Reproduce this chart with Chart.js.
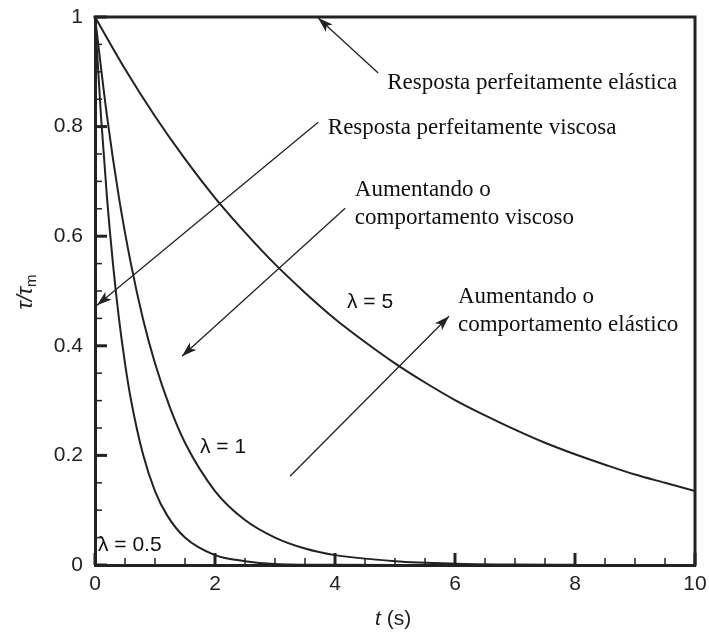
<!DOCTYPE html>
<html>
<head>
<meta charset="utf-8">
<script src="https://cdn.jsdelivr.net/npm/chart.js@4/dist/chart.umd.min.js"></script>
<style>
  body { margin: 0; background: #fff; }
  #wrap { width: 709px; height: 637px; }
</style>
</head>
<body>
<div id="wrap"><canvas id="grafico" width="709" height="637"></canvas></div>
<script>
// valores (t em s, tau/tau_m)
const tLambda05 = [0, 0.1, 0.2, 0.3, 0.4, 0.5, 0.6, 0.8, 1.0, 1.2, 1.5, 2.0, 2.5, 3.0, 4.0, 5.0, 6.0, 7.5];
const yLambda05 = [1, 0.819, 0.670, 0.549, 0.449, 0.368, 0.301, 0.202, 0.135, 0.091, 0.050, 0.018, 0.007, 0.002, 0.0003, 0, 0, 0];

const tLambda1 = [0, 0.2, 0.4, 0.6, 0.8, 1.0, 1.25, 1.5, 2.0, 2.5, 3.0, 3.5, 4.0, 5.0, 6.0, 7.0, 8.0];
const yLambda1 = [1, 0.819, 0.670, 0.549, 0.449, 0.368, 0.287, 0.223, 0.135, 0.082, 0.050, 0.030, 0.018, 0.007, 0.0025, 0.0009, 0.0003];

const tLambda5 = [0, 0.5, 1, 1.5, 2, 2.5, 3, 3.5, 4, 4.5, 5, 5.5, 6, 6.5, 7, 7.5, 8, 8.5, 9, 9.5, 10];
const yLambda5 = [1, 0.905, 0.819, 0.741, 0.670, 0.607, 0.549, 0.497, 0.449, 0.407, 0.368, 0.333, 0.301, 0.273, 0.247, 0.223, 0.202, 0.183, 0.165, 0.150, 0.135];

const xTicks = [0, 2, 4, 6, 8, 10];
const yTicks = [0, 0.2, 0.4, 0.6, 0.8, 1];

const cor = '#222';
const serif = '"Liberation Serif", "Times New Roman", serif';
const sans = '"Liberation Sans", Arial, sans-serif';

function pontos(ts, ys) {
    return ts.map((t, i) => ({ x: t, y: ys[i] }));
}

// textos e setas em coordenadas dos dados
const textos = [
    { txt: 'Resposta perfeitamente elástica', x: 4.87, y: 0.880, font: '23px ' + serif },
    { txt: 'Resposta perfeitamente viscosa', x: 3.88, y: 0.797, font: '23px ' + serif },
    { txt: 'Aumentando o', x: 4.33, y: 0.684, font: '23px ' + serif },
    { txt: 'comportamento viscoso', x: 4.33, y: 0.633, font: '23px ' + serif },
    { txt: 'Aumentando o', x: 6.05, y: 0.489, font: '23px ' + serif },
    { txt: 'comportamento elástico', x: 6.05, y: 0.438, font: '23px ' + serif },
    { txt: 'λ = 5', x: 4.2, y: 0.48, font: '21px ' + sans },
    { txt: 'λ = 1', x: 1.75, y: 0.215, font: '21px ' + sans },
    { txt: 'λ = 0.5', x: 0.05, y: 0.036, font: '21px ' + sans }
];

const setas = [
    { x0: 4.72, y0: 0.898, x1: 3.72, y1: 0.998 },
    { x0: 3.72, y0: 0.808, x1: 0.033, y1: 0.474 },
    { x0: 4.17, y0: 0.651, x1: 1.45, y1: 0.381 },
    { x0: 3.25, y0: 0.162, x1: 5.9, y1: 0.454 }
];

const moldura = {
    id: 'moldura',
    afterDraw(chart) {
        const ctx = chart.ctx;
        const a = chart.chartArea;
        const sx = chart.scales.x;
        const sy = chart.scales.y;
        ctx.save();
        ctx.strokeStyle = cor;
        ctx.lineCap = 'square';

        // moldura superior e direita
        ctx.lineWidth = 3;
        ctx.beginPath();
        ctx.moveTo(a.left, a.top);
        ctx.lineTo(a.right, a.top);
        ctx.lineTo(a.right, a.bottom);
        ctx.stroke();

        // marcas para dentro
        ctx.lineCap = 'butt';
        for (let i = 0; i <= 20; i++) {
            const v = i * 0.5;
            const px = sx.getPixelForValue(v);
            const maior = i % 4 === 0;
            ctx.lineWidth = maior ? 3 : 1.5;
            ctx.beginPath();
            ctx.moveTo(px, a.bottom);
            ctx.lineTo(px, a.bottom - (maior ? 12 : 7));
            ctx.stroke();
        }
        for (let i = 0; i <= 20; i++) {
            const v = i * 0.05;
            const py = sy.getPixelForValue(v);
            const maior = i % 4 === 0;
            ctx.lineWidth = maior ? 3 : 1.5;
            ctx.beginPath();
            ctx.moveTo(a.left, py);
            ctx.lineTo(a.left + (maior ? 12 : 7), py);
            ctx.stroke();
        }

        // rótulos dos eixos
        ctx.fillStyle = cor;
        ctx.font = '21px ' + sans;
        ctx.textAlign = 'center';
        ctx.textBaseline = 'top';
        xTicks.forEach(v => ctx.fillText(String(v), sx.getPixelForValue(v), a.bottom + 9));
        ctx.textAlign = 'right';
        ctx.textBaseline = 'middle';
        yTicks.forEach(v => ctx.fillText(String(v), a.left - 12, sy.getPixelForValue(v)));

        // setas
        ctx.lineWidth = 1.3;
        setas.forEach(s => {
            const x0 = sx.getPixelForValue(s.x0), y0 = sy.getPixelForValue(s.y0);
            const x1 = sx.getPixelForValue(s.x1), y1 = sy.getPixelForValue(s.y1);
            const ang = Math.atan2(y1 - y0, x1 - x0);
            ctx.beginPath();
            ctx.moveTo(x0, y0);
            ctx.lineTo(x1, y1);
            ctx.stroke();
            const L = 15, W = 5;
            ctx.beginPath();
            ctx.moveTo(x1, y1);
            ctx.lineTo(x1 - L * Math.cos(ang) + W * Math.sin(ang), y1 - L * Math.sin(ang) - W * Math.cos(ang));
            ctx.lineTo(x1 - L * 0.75 * Math.cos(ang), y1 - L * 0.75 * Math.sin(ang));
            ctx.lineTo(x1 - L * Math.cos(ang) - W * Math.sin(ang), y1 - L * Math.sin(ang) + W * Math.cos(ang));
            ctx.closePath();
            ctx.fill();
        });

        // textos
        ctx.textBaseline = 'middle';
        ctx.textAlign = 'left';
        textos.forEach(t => {
            ctx.font = t.font;
            ctx.fillStyle = '#111';
            ctx.fillText(t.txt, sx.getPixelForValue(t.x), sy.getPixelForValue(t.y));
        });

        // título do eixo x: t (s)
        ctx.fillStyle = cor;
        ctx.font = 'italic 21px ' + sans;
        const xt = 375, yt = 619;
        ctx.fillText('t', xt, yt);
        const wt = ctx.measureText('t').width;
        ctx.font = '21px ' + sans;
        ctx.fillText(' (s)', xt + wt, yt);

        // título do eixo y: τ/τm
        ctx.translate(26, 292);
        ctx.rotate(-Math.PI / 2);
        ctx.font = 'italic 22px ' + sans;
        const w1 = ctx.measureText('τ/τ').width;
        ctx.font = '15px ' + sans;
        const w2 = ctx.measureText('m').width;
        const x0 = -(w1 + w2) / 2;
        ctx.font = 'italic 22px ' + sans;
        ctx.fillText('τ/τ', x0, 0);
        ctx.font = '15px ' + sans;
        ctx.fillText('m', x0 + w1, 6);
        ctx.restore();
    }
};

const estilo = { borderColor: cor, borderWidth: 2, pointRadius: 0, fill: false, cubicInterpolationMode: 'monotone' };

new Chart(document.getElementById('grafico').getContext('2d'), {
    type: 'line',
    data: {
        datasets: [
            { label: 'λ = 0.5', data: pontos(tLambda05, yLambda05), ...estilo },
            { label: 'λ = 1', data: pontos(tLambda1, yLambda1), ...estilo },
            { label: 'λ = 5', data: pontos(tLambda5, yLambda5), ...estilo }
        ]
    },
    options: {
        responsive: false,
        animation: false,
        layout: { padding: { left: 0, right: 14, top: 17, bottom: 0 } },
        plugins: {
            legend: { display: false },
            tooltip: { enabled: false }
        },
        scales: {
            x: {
                type: 'linear',
                min: 0,
                max: 10,
                afterFit: s => { s.height = 72; },
                grid: { display: false },
                border: { display: true, color: cor, width: 3 },
                ticks: { display: false }
            },
            y: {
                type: 'linear',
                min: 0,
                max: 1,
                afterFit: s => { s.width = 95; },
                grid: { display: false },
                border: { display: true, color: cor, width: 3 },
                ticks: { display: false }
            }
        }
    },
    plugins: [moldura]
});
</script>
</body>
</html>
